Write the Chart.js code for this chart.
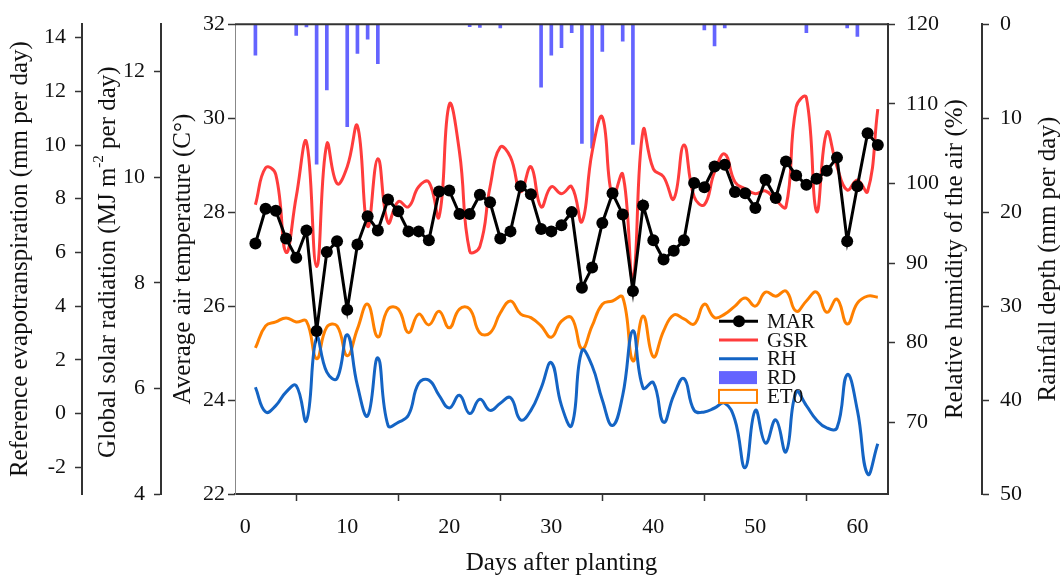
<!DOCTYPE html>
<html>
<head>
<meta charset="utf-8">
<script src="https://cdn.jsdelivr.net/npm/chart.js@4.4.1/dist/chart.umd.min.js"></script>
<style>
  html, body { margin: 0; padding: 0; background: #ffffff; }
  #wrap { width: 1060px; height: 576px; }
</style>
</head>
<body>
<div id="wrap"><canvas id="c" width="1060" height="576"></canvas></div>
<script>
// Days after planting
const days = [1,2,3,4,5,6,7,8,9,10,11,12,13,14,15,16,17,18,19,20,
  21,22,23,24,25,26,27,28,29,30,31,32,33,34,35,36,37,38,39,40,
  41,42,43,44,45,46,47,48,49,50,51,52,53,54,55,56,57,58,59,60,61,62];

// Mean air temperature (°C)
const mar = [27.33,28.07,28.03,27.44,27.03,27.61,25.47,27.15,27.38,25.92,
  27.31,27.91,27.61,28.27,28.02,27.59,27.59,27.40,28.44,28.46,
  27.96,27.96,28.37,28.21,27.44,27.59,28.55,28.38,27.64,27.59,
  27.72,28.00,26.39,26.82,27.77,28.40,27.95,26.32,28.14,27.40,
  26.99,27.18,27.40,28.62,28.53,28.97,29.01,28.43,28.40,28.09,
  28.69,28.30,29.08,28.78,28.58,28.71,28.88,29.16,27.38,28.55,29.68,29.43];

// Global solar radiation (MJ m-2 per day)
const gsr = [9.48,10.18,10.05,8.58,9.63,10.67,8.31,10.63,9.88,10.20,
  10.97,9.07,10.35,9.14,9.54,9.44,9.82,9.91,9.25,11.38,
  10.48,8.60,8.69,9.82,10.57,10.38,9.73,10.20,9.44,9.82,
  9.69,9.82,9.16,10.48,11.14,9.63,10.06,8.07,10.89,10.16,
  10.01,9.59,10.61,9.63,9.48,10.10,10.44,9.91,9.78,9.69,
  9.74,9.57,9.44,11.33,11.51,9.35,10.85,10.20,9.76,9.95,9.73,11.29];

// Relative humidity of the air (%)
const rh = [74.4,71.3,72.1,73.8,74.6,70.2,80.6,76.3,75.5,81.0,
  74.6,70.8,78.1,69.6,70.0,70.9,74.9,75.3,73.4,71.8,
  73.4,71.1,72.9,71.5,72.4,73.1,70.3,71.5,74.3,77.5,
  72.1,69.6,79.0,77.1,72.8,69.6,73.4,81.5,74.3,75.0,
  70.0,73.4,75.5,71.5,71.3,71.8,72.4,70.3,64.3,71.5,
  67.4,70.3,66.3,73.8,72.1,70.3,69.3,69.3,76.0,71.5,63.5,67.3];

// Rainfall depth (mm per day)
const rd = [3.3,0,0,0,1.2,0.3,14.9,7.0,0,10.9,
  3.1,1.6,4.2,0,0,0,0,0,0,0,
  0,0.25,0.35,0,0.4,0,0,0,6.7,3.3,
  2.5,0.9,12.7,13.2,2.9,0,1.8,12.8,0,0,
  0,0,0,0,0.6,2.3,0.4,0,0,0,
  0,0,0,0,0.9,0,0,0,0.4,1.3,0,0];

// Reference evapotranspiration (mm per day)
const et0 = [2.44,3.26,3.41,3.56,3.41,3.44,2.04,3.22,3.26,2.15,
  3.15,4.07,2.85,3.89,3.89,3.01,3.70,3.30,3.81,3.19,
  3.89,3.89,3.00,3.00,3.74,4.19,3.70,3.57,3.26,2.84,
  3.44,3.56,2.41,3.26,4.07,4.19,4.33,1.96,3.63,2.11,
  3.07,3.67,3.52,3.33,4.07,3.57,3.70,4.00,4.30,4.00,
  4.52,4.37,4.56,3.81,4.19,4.52,3.77,4.26,3.33,4.11,4.37,4.33];

const FAMILY = "'Liberation Serif', 'Times New Roman', serif";
const INK = '#111111';
const AXIS = '#333333';

const pts = arr => days.map((d, i) => ({ x: d, y: arr[i] }));

const tickFont = { family: FAMILY, size: 22 };
const titleFont = { family: FAMILY, size: 25, lineHeight: 1 };

function axisGrid() {
  return { drawOnChartArea: false, drawTicks: true, tickLength: 7, tickColor: AXIS, tickWidth: 1.5 };
}

function yAxis(pos, weight, min, max, step, width, tickPad, titleText, titlePad, extra) {
  return Object.assign({
    type: 'linear', position: pos, weight: weight, min: min, max: max,
    ticks: { stepSize: step, includeBounds: false, font: tickFont, color: INK, padding: tickPad },
    grid: axisGrid(),
    border: { display: true, color: AXIS, width: 2 },
    title: titleText ? { display: true, text: titleText, font: titleFont, color: INK,
                         padding: { top: titlePad, bottom: 0 } } : { display: false },
    afterFit: s => { s.width = width; }
  }, extra || {});
}

// Vertical axis title reading bottom-to-top, centred at (cx, cy); parts may carry a superscript
function drawUpTitle(ctx, cx, cy, parts) {
  ctx.save();
  ctx.translate(cx, cy);
  ctx.rotate(-Math.PI / 2);
  ctx.fillStyle = INK;
  ctx.textBaseline = 'middle';
  ctx.textAlign = 'left';
  const widths = parts.map(p => {
    ctx.font = `${p.sup ? 15 : 25}px ${FAMILY}`;
    return ctx.measureText(p.text).width;
  });
  let x = -widths.reduce((a, b) => a + b, 0) / 2;
  parts.forEach((p, i) => {
    ctx.font = `${p.sup ? 15 : 25}px ${FAMILY}`;
    ctx.fillText(p.text, x, p.sup ? -9 : 0);
    x += widths[i];
  });
  ctx.restore();
}

// Custom legend, extra axis titles and top frame line
const decor = {
  id: 'decor',
  afterDraw(chart) {
    const ctx = chart.ctx;
    const area = chart.chartArea;
    const midY = (area.top + area.bottom) / 2;

    // top frame
    ctx.save();
    ctx.strokeStyle = AXIS;
    ctx.lineWidth = 2;
    ctx.beginPath();
    ctx.moveTo(area.left, area.top);
    ctx.lineTo(area.right, area.top);
    ctx.stroke();
    ctx.restore();

    // axis titles drawn here so that all of them read bottom-to-top
    const g = chart.scales.yG, h = chart.scales.yH, r = chart.scales.yR;
    drawUpTitle(ctx, g.left + 26, midY + 3, [
      { text: 'Global solar radiation (MJ m' }, { text: '-2', sup: true }, { text: ' per day)' }
    ]);
    drawUpTitle(ctx, h.right - 27, midY, [{ text: 'Relative humidity of the air (%)' }]);
    drawUpTitle(ctx, r.right - 12, midY, [{ text: 'Rainfall depth (mm per day)' }]);

    // legend
    const x0 = area.right - 169;
    const y0 = area.top + 297;
    const step = 18.8;
    ctx.save();
    ctx.font = `21px ${FAMILY}`;
    ctx.textBaseline = 'middle';
    ctx.textAlign = 'left';
    chart.data.datasets.forEach((ds, i) => {
      const y = y0 + i * step;
      if (ds.legendKind === 'dot') {
        ctx.strokeStyle = ds.borderColor; ctx.lineWidth = 3;
        ctx.beginPath(); ctx.moveTo(x0, y); ctx.lineTo(x0 + 39, y); ctx.stroke();
        ctx.fillStyle = ds.borderColor;
        ctx.beginPath(); ctx.arc(x0 + 20, y, 6, 0, Math.PI * 2); ctx.fill();
      } else if (ds.legendKind === 'line') {
        ctx.strokeStyle = ds.borderColor; ctx.lineWidth = 3;
        ctx.beginPath(); ctx.moveTo(x0, y); ctx.lineTo(x0 + 39, y); ctx.stroke();
      } else if (ds.legendKind === 'fill') {
        ctx.fillStyle = ds.backgroundColor;
        ctx.fillRect(x0, y - 6.5, 38, 13);
      } else if (ds.legendKind === 'outline') {
        ctx.fillStyle = '#ffffff';
        ctx.fillRect(x0, y - 6.5, 38, 13);
        ctx.strokeStyle = ds.borderColor; ctx.lineWidth = 2;
        ctx.strokeRect(x0, y - 6.5, 38, 13);
      }
      ctx.fillStyle = INK;
      ctx.fillText(ds.label, x0 + 48, y + 1);
    });
    ctx.restore();
  }
};

new Chart(document.getElementById('c'), {
  type: 'line',
  data: {
    datasets: [
      { label: 'MAR', legendKind: 'dot', data: pts(mar), yAxisID: 'yT',
        borderColor: '#000000', backgroundColor: '#000000', borderWidth: 3,
        pointRadius: 6, pointBorderWidth: 0, pointBackgroundColor: '#000000', tension: 0 },
      { label: 'GSR', legendKind: 'line', data: pts(gsr), yAxisID: 'yG',
        borderColor: '#ff3c3c', borderWidth: 3, pointRadius: 0, tension: 0.45 },
      { label: 'RH', legendKind: 'line', data: pts(rh), yAxisID: 'yH',
        borderColor: '#1464c4', borderWidth: 3, pointRadius: 0, tension: 0.45 },
      { label: 'RD', legendKind: 'fill', type: 'bar', data: pts(rd), yAxisID: 'yR',
        backgroundColor: '#6464ff', borderWidth: 0, barThickness: 3 },
      { label: 'ET0', legendKind: 'outline', data: pts(et0), yAxisID: 'yE',
        borderColor: '#ff8000', borderWidth: 3, pointRadius: 0, tension: 0.45 }
    ]
  },
  options: {
    responsive: false,
    animation: false,
    layout: { padding: { top: 22, left: 0, right: 0, bottom: 0 } },
    plugins: { legend: { display: false }, tooltip: { enabled: false } },
    scales: {
      x: {
        type: 'linear', position: 'bottom', min: -1, max: 63, offset: false,
        ticks: { stepSize: 10, includeBounds: false, font: tickFont, color: INK, padding: 13, maxRotation: 0 },
        grid: axisGrid(),
        border: { display: true, color: AXIS, width: 2 },
        title: { display: true, text: 'Days after planting', font: titleFont, color: INK,
                 padding: { top: 0, bottom: 0 } },
        afterFit: s => { s.height = 82; }
      },
      yT: yAxis('left', 0, 22, 32, 2, 74, 3, 'Average air temperature (C°)', 9.5,
                { border: { display: true, color: '#888888', width: 1 } }),
      yG: yAxis('left', 1, 4, 12.9, 2, 79, 9, null, 0),
      yE: yAxis('left', 2, -3, 14.5, 2, 82, 9, 'Reference evapotranspiration (mm per day)', 7.5),
      yH: yAxis('right', 0, 61, 120, 10, 94, 11, null, 0),
      yR: yAxis('right', 1, 0, 50, 10, 78, 11, null, 0, { reverse: true })
    }
  },
  plugins: [decor]
});
</script>
</body>
</html>
